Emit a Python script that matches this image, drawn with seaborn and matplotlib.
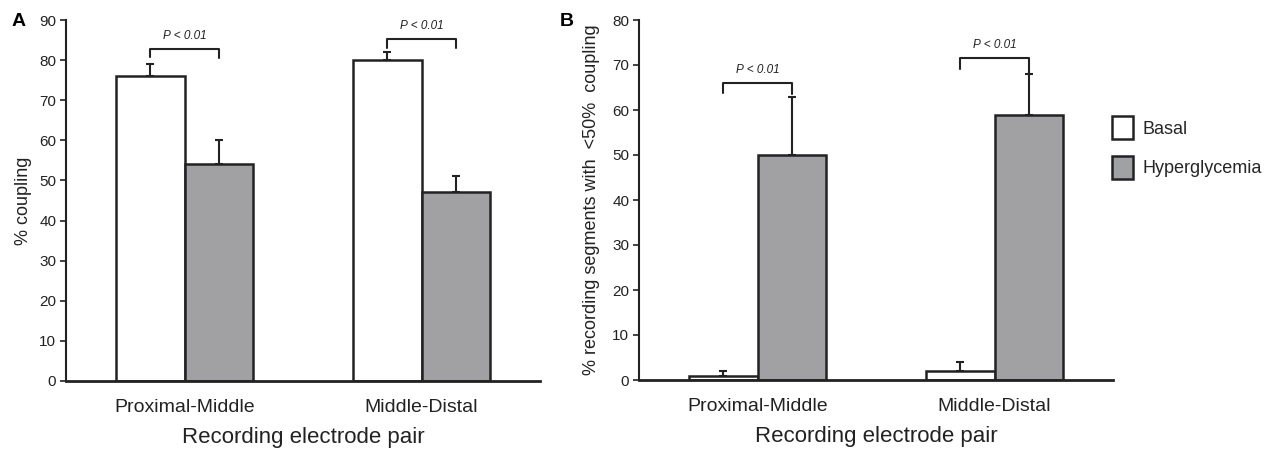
import matplotlib
matplotlib.use("Agg")
import matplotlib.pyplot as plt
from matplotlib.patches import Patch
import seaborn as sns
import pandas as pd

pairs = ["Proximal-Middle", "Middle-Distal"]
conditions = ["Basal", "Hyperglycemia"]

# Panel A: % coupling
a_basal = [76, 80]
a_basal_err = [3, 2]
a_hyper = [54, 47]
a_hyper_err = [6, 4]

# Panel B: % recording segments with <50% coupling
b_basal = [1, 2]
b_basal_err = [1, 2]
b_hyper = [50, 59]
b_hyper_err = [13, 9]

# significance brackets: (bracket y, left leg bottom, right leg bottom, text y)
a_sig = [(82.8, 80.8, 80.5, 84.6), (85.2, 83.0, 83.0, 87.0)]
b_sig = [(66.0, 63.8, 63.5, 67.6), (71.5, 69.2, 68.0, 73.2)]

sns.set_theme(style="ticks")
plt.rcParams["font.family"] = ["Liberation Sans", "DejaVu Sans"]

GRAY = "#a0a1a5"
EDGE = "#222222"
palette = {"Basal": "white", "Hyperglycemia": GRAY}

fig = plt.figure(figsize=(12.74, 4.49), dpi=100)
axA = fig.add_axes([66/1274, 1-381/449, (540-66)/1274, (381-20)/449])
axB = fig.add_axes([639/1274, 1-380/449, (1113-639)/1274, (380-20)/449])


def panel(ax, basal, basal_err, hyper, hyper_err, sig, ymax, ylabel, ylabelpad,
          letter, letter_x):
    df = pd.DataFrame({
        "pair": pairs * 2,
        "cond": [conditions[0]] * 2 + [conditions[1]] * 2,
        "val": list(basal) + list(hyper),
        "err": list(basal_err) + list(hyper_err),
    })
    sns.barplot(data=df, x="pair", y="val", hue="cond", order=pairs,
                hue_order=conditions, palette=palette, width=0.576,
                edgecolor=EDGE, linewidth=1.8, errorbar=None, legend=False,
                ax=ax)
    centers = {}
    for cont, cond in zip(ax.containers, conditions):
        for bar, pair in zip(cont, pairs):
            x = bar.get_x() + bar.get_width() / 2
            centers[(cond, pair)] = x
            row = df[(df.cond == cond) & (df.pair == pair)].iloc[0]
            ax.errorbar(x, row.val, yerr=[[0], [row.err]], fmt="none",
                        ecolor=EDGE, elinewidth=1.5, capsize=3, capthick=1.5,
                        zorder=1)
    for pair, (yb, yl, yr, yt) in zip(pairs, sig):
        x0 = centers[("Basal", pair)]
        x1 = centers[("Hyperglycemia", pair)]
        ax.plot([x0, x0, x1, x1], [yl, yb, yb, yr], color=EDGE, lw=1.5,
                clip_on=False)
        ax.text((x0 + x1) / 2, yt, "P < 0.01", ha="center", va="bottom",
                fontsize=8.5, style="italic", color="#222222")
    ax.set_xlim(-0.5, 1.5)
    ax.set_ylim(0, ymax)
    ax.set_yticks(range(0, ymax + 1, 10))
    sns.despine(ax=ax)
    ax.spines["left"].set_linewidth(1.5)
    ax.spines["bottom"].set_linewidth(2)
    ax.spines["left"].set_color(EDGE)
    ax.spines["bottom"].set_color(EDGE)
    ax.tick_params(axis="y", labelsize=11, length=4, width=1.2, colors=EDGE,
                   pad=3)
    ax.tick_params(axis="x", labelsize=14, length=0, pad=13, colors=EDGE)
    ax.set_xlabel("Recording electrode pair", fontsize=16, labelpad=8,
                  color=EDGE)
    ax.set_ylabel(ylabel, fontsize=13, color=EDGE, labelpad=ylabelpad)
    fig.text(letter_x, 1 - 21/449, letter, fontsize=14, fontweight="bold",
             ha="left", va="center", color="black")


panel(axA, a_basal, a_basal_err, a_hyper, a_hyper_err, a_sig, 90,
      "% coupling", 5, "A", 12/1274)
panel(axB, b_basal, b_basal_err, b_hyper, b_hyper_err, b_sig, 80,
      "% recording segments with  <50%  coupling", 9, "B", 560/1274)

handles = [Patch(facecolor=palette[c], edgecolor=EDGE, linewidth=1.8, label=c)
           for c in conditions]
fig.legend(handles=handles, loc="upper left",
           bbox_to_anchor=(1096/1274, 1 - 100/449), frameon=False,
           fontsize=13, handlelength=1.15, handleheight=1.6, labelspacing=0.9,
           handletextpad=0.5)

fig.savefig("out.png", dpi=100, facecolor="white")
